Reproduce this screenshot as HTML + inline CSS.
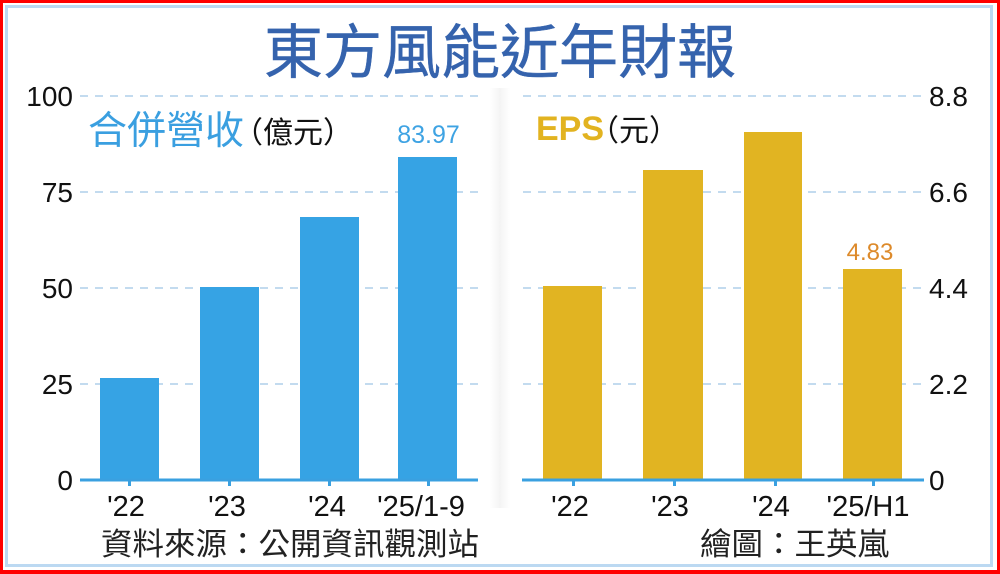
<!DOCTYPE html>
<html>
<head>
<meta charset="utf-8">
<style>
  html,body{margin:0;padding:0;background:#fff;}
  svg{display:block;}
  .num{font-family:"Liberation Sans",sans-serif;}
  .cjk{font-family:"Liberation Sans","Noto Sans CJK TC",sans-serif;}
</style>
</head>
<body>
<svg width="1000" height="574" viewBox="0 0 1000 574" xmlns="http://www.w3.org/2000/svg">
  <defs>
    <linearGradient id="mid" x1="0" x2="1" y1="0" y2="0">
      <stop offset="0" stop-color="#ffffff"/>
      <stop offset="0.5" stop-color="#f4f4f4"/>
      <stop offset="1" stop-color="#ffffff"/>
    </linearGradient>
  </defs>
  <rect x="0" y="0" width="1000" height="574" fill="#ffffff"/>
  <!-- borders -->
  <rect x="6.5" y="6.5" width="985" height="559" fill="none" stroke="#bcd9f2" stroke-width="3"/>
  <rect x="0" y="0" width="1000" height="3" fill="#ff0000"/>
  <rect x="0" y="0" width="3" height="574" fill="#ff0000"/>
  <rect x="997" y="0" width="3" height="574" fill="#ff0000"/>
  <rect x="0" y="570" width="1000" height="4" fill="#ff0000"/>

  <!-- middle shadow -->
  <rect x="490" y="88" width="20" height="420" fill="url(#mid)"/>

  <!-- Title -->
  <text x="264" y="73" class="cjk" font-size="59" font-weight="400" fill="#3563ad" stroke="#3563ad" stroke-width="0.4" textLength="472" lengthAdjust="spacingAndGlyphs">東方風能近年財報</text>

  <!-- LEFT CHART -->
  <g stroke="#c3dbef" stroke-width="2" stroke-dasharray="8,7">
    <line x1="80" y1="96" x2="478" y2="96"/>
    <line x1="80" y1="192" x2="478" y2="192"/>
    <line x1="80" y1="288" x2="478" y2="288"/>
    <line x1="80" y1="384" x2="478" y2="384"/>
  </g>
  <g class="num" font-size="28" fill="#111" text-anchor="end">
    <text x="73" y="106">100</text>
    <text x="73" y="202">75</text>
    <text x="73" y="298">50</text>
    <text x="73" y="394">25</text>
    <text x="73" y="490">0</text>
  </g>
  <g fill="#36a3e4">
    <rect x="100" y="378" width="59" height="102"/>
    <rect x="200" y="287" width="59" height="193"/>
    <rect x="300" y="217" width="59" height="263"/>
    <rect x="398" y="157" width="59" height="323"/>
  </g>
  <rect x="80" y="478.5" width="398" height="3" fill="#3aa0e0"/>
  <g fill="#3aa0e0">
    <rect x="128" y="480" width="3" height="6"/>
    <rect x="228" y="480" width="3" height="6"/>
    <rect x="328" y="480" width="3" height="6"/>
    <rect x="427" y="480" width="3" height="6"/>
  </g>
  <g class="num" font-size="29" fill="#111" text-anchor="middle">
    <text x="126" y="516">'22</text>
    <text x="227" y="516">'23</text>
    <text x="327" y="516">'24</text>
    <text x="421" y="516">'25/1-9</text>
  </g>
  <text x="428.5" y="143" class="num" font-size="25" fill="#3ea3e3" text-anchor="middle">83.97</text>
  <text x="88" y="144" class="cjk" font-size="39" font-weight="400" fill="#3a9fe0">合併營收</text>
  <text x="233" y="143" class="cjk" font-size="30" fill="#111">（億元）</text>

  <!-- RIGHT CHART -->
  <g stroke="#c3dbef" stroke-width="2" stroke-dasharray="8,7">
    <line x1="523" y1="96" x2="924" y2="96"/>
    <line x1="523" y1="192" x2="924" y2="192"/>
    <line x1="523" y1="288" x2="924" y2="288"/>
    <line x1="523" y1="384" x2="924" y2="384"/>
  </g>
  <g class="num" font-size="28" fill="#111" text-anchor="start">
    <text x="929" y="106">8.8</text>
    <text x="929" y="202">6.6</text>
    <text x="929" y="298">4.4</text>
    <text x="929" y="394">2.2</text>
    <text x="929" y="490">0</text>
  </g>
  <g fill="#e1b422">
    <rect x="543" y="286" width="59" height="194"/>
    <rect x="643" y="170" width="60" height="310"/>
    <rect x="744" y="132" width="58" height="348"/>
    <rect x="843" y="269" width="59" height="211"/>
  </g>
  <rect x="522" y="478.5" width="402" height="3" fill="#3aa0e0"/>
  <g fill="#3aa0e0">
    <rect x="572" y="480" width="3" height="6"/>
    <rect x="673" y="480" width="3" height="6"/>
    <rect x="774" y="480" width="3" height="6"/>
    <rect x="872" y="480" width="3" height="6"/>
  </g>
  <g class="num" font-size="29" fill="#111" text-anchor="middle">
    <text x="570" y="516">'22</text>
    <text x="670" y="516">'23</text>
    <text x="771" y="516">'24</text>
    <text x="868" y="516">'25/H1</text>
  </g>
  <text x="870" y="260" class="num" font-size="24" fill="#dd8a2a" text-anchor="middle">4.83</text>
  <text x="536" y="140" class="num" font-size="34" font-weight="700" fill="#e2b320">EPS</text>
  <text x="589" y="141" class="cjk" font-size="30" fill="#111">（元）</text>

  <!-- footers -->
  <text x="101" y="555" class="cjk" font-size="31" fill="#222" textLength="378" lengthAdjust="spacingAndGlyphs">資料來源：公開資訊觀測站</text>
  <text x="700" y="555" class="cjk" font-size="31" fill="#222" textLength="189" lengthAdjust="spacingAndGlyphs">繪圖：王英嵐</text>
</svg>
</body>
</html>
